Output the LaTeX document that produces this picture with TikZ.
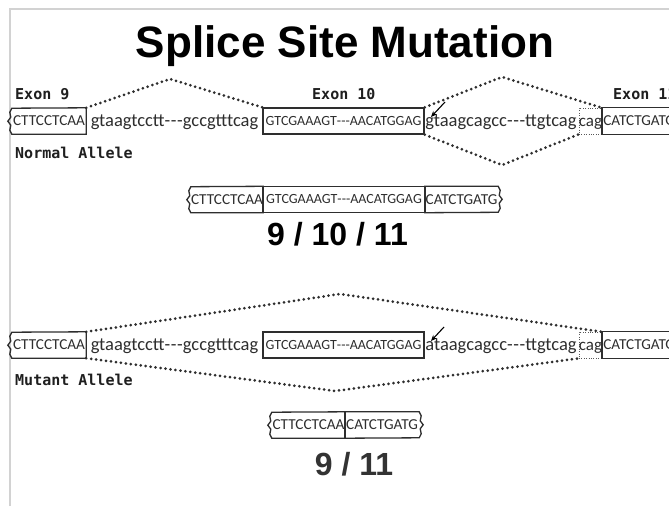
\documentclass[tikz,border=0pt]{standalone}
\usepackage{fontspec}
\setmainfont{Liberation Sans}
\newfontfamily\seqfont{Carlito}
\newfontfamily\labfont{DejaVu Sans Mono}
\usetikzlibrary{arrows.meta}
\definecolor{ink}{HTML}{2E2E2E}
\definecolor{framegray}{HTML}{D2D2D2}
\newcommand\dsh{\mbox{-}\hspace{0.6pt}\mbox{-}\hspace{0.6pt}\mbox{-}}
\newcommand\tdsh{\mbox{-}\mbox{-}\mbox{-}}
\tikzset{
  capseq/.style={font=\seqfont\fontsize{15.2}{17}\selectfont, text=ink, inner sep=0pt},
  lowseq/.style={font=\seqfont\fontsize{18.5}{20}\selectfont, text=ink, inner sep=0pt, anchor=base},
  cagtxt/.style={font=\seqfont\fontsize{17}{19}\selectfont, text=ink, inner sep=0pt, anchor=base},
  boxline/.style={draw=ink, line width=1.3pt},
  exbox/.style={capseq, rectangle, minimum height=26pt, boxline},
  midbox/.style={exbox, font=\seqfont\fontsize{14}{16}\selectfont},
  openbox/.style={capseq, rectangle, minimum height=26pt},
  cagbox/.style={rectangle, inner sep=0pt, minimum height=26pt, draw=ink!80, line width=0.8pt, dash pattern=on 1pt off 1.4pt},
  exlab/.style={font=\labfont\bfseries\fontsize{15}{17}\selectfont, text=black!88, inner sep=0pt, anchor=base west},
  dots/.style={draw=ink, line width=3pt, line cap=round, dash pattern=on 0pt off 5pt},
  pointer/.style={draw=black, line width=1.1pt, -{Stealth[length=6pt,width=5pt]}},
  lwave/.style={insert path={-- ++(-2,-4) -- ++(1,-5) -- ++(-3,-4) -- ++(3,-4) -- ++(-1,-5) -- ++(2,-4)}},
  rwave/.style={insert path={-- ++(2,4) -- ++(-1,5) -- ++(3,4) -- ++(-3,4) -- ++(1,5) -- ++(-2,4)}},
  bignum/.style={font=\bfseries\fontsize{32}{36}\selectfont, inner sep=0pt, anchor=base}
}
\begin{document}
\begin{tikzpicture}[x=1pt,y=-1pt]
\path[use as bounding box] (0,0) rectangle (669,506);
\clip (0,0) rectangle (669,506);
\fill[white] (0,0) rectangle (669,506);
\draw[framegray, line width=2pt] (9.8,506) -- (9.8,9) -- (669,9);

% title
\node[font=\bfseries\fontsize{44}{48}\selectfont, inner sep=0pt, anchor=base] (title) at (345,57) {Splice Site Mutation};

% ---------- Normal allele ----------
\node[exlab] (l9) at (15,99) {Exon 9};
\node[exlab] (l10) at (312,99) {Exon 10};
\node[exlab] (l11) at (613,99) {Exon 11};

\node[openbox, minimum width=76pt] (e9n) at (48,121) {\hspace*{2pt}CTTCCTCAA};
\draw[boxline] ([xshift=2pt]e9n.south west) [lwave] -- (e9n.north east) -- (e9n.south east) -- cycle;
\node[lowseq] (i1n) at (174.5,126.5) {gtaagtcctt\dsh gccgtttcag};
\node[midbox, minimum width=161pt] (e10n) at (343.5,121) {GTCGAAAGT\tdsh AACATGGAG};
\node[lowseq] (i2n) at (501,126.5) {gtaagcagcc\dsh ttgtcag};
\node[cagbox, minimum width=23pt] (cagn) at (590.5,121) {};
\node[cagtxt] (cagtn) at (590.5,126.5) {cag};
\node[openbox, minimum width=100pt, anchor=west] (e11n) at (602,121) {\hspace*{-26pt}CATCTGATG};
\draw[boxline] (e11n.north east) -- (e11n.north west) -- (e11n.south west) -- (e11n.south east);

\coordinate (p1n) at (170,79);
\coordinate (p2n) at (502,77);
\coordinate (p3n) at (502,165);
\draw[dots] (e9n.north east) -- (p1n) -- (e10n.north west);
\draw[dots] (e10n.north east) -- (p2n) -- (e11n.north west);
\draw[dots] (e10n.south east) -- (p3n) -- (cagn.south west);
\coordinate (an0) at (445,102);
\coordinate (an1) at (431,117);
\draw[pointer] (an0) -- (an1);

\node[exlab] (nal) at (15,158) {Normal Allele};

% ---------- product 9/10/11 ----------
\node[openbox, minimum width=74pt] (a9) at (226,199.5) {\hspace*{2pt}CTTCCTCAA};
\draw[boxline] ([xshift=2pt]a9.south west) [lwave] -- (a9.north east) -- (a9.south east) -- cycle;
\node[midbox, minimum width=162pt] (a10) at (344,199.5) {GTCGAAAGT\tdsh AACATGGAG};
\node[openbox, minimum width=76pt] (a11) at (463,199.5) {CATCTGATG\hspace*{3pt}};
\draw[boxline] (a11.south west) -- (a11.north west) -- ([xshift=-3pt]a11.north east) [rwave] -- cycle;
\node[bignum] (n1) at (337.5,245) {9 / 10 / 11};

% ---------- Mutant allele ----------
\node[openbox, minimum width=76pt] (e9m) at (48,345) {\hspace*{2pt}CTTCCTCAA};
\draw[boxline] ([xshift=2pt]e9m.south west) [lwave] -- (e9m.north east) -- (e9m.south east) -- cycle;
\node[lowseq] (i1m) at (174.5,350.5) {gtaagtcctt\dsh gccgtttcag};
\node[midbox, minimum width=161pt] (e10m) at (343.5,345) {GTCGAAAGT\tdsh AACATGGAG};
\node[lowseq] (i2m) at (501,350.5) {ataagcagcc\dsh ttgtcag};
\node[cagbox, minimum width=23pt] (cagm) at (590.5,345) {};
\node[cagtxt] (cagtm) at (590.5,350.5) {cag};
\node[openbox, minimum width=100pt, anchor=west] (e11m) at (602,345) {\hspace*{-26pt}CATCTGATG};
\draw[boxline] (e11m.north east) -- (e11m.north west) -- (e11m.south west) -- (e11m.south east);

\coordinate (p1m) at (340,294);
\coordinate (p2m) at (335,391);
\draw[dots] (e9m.north east) -- (p1m) -- (e11m.north west);
\draw[dots] (e9m.south east) -- (p2m) -- (cagm.south west);
\coordinate (am0) at (444,327);
\coordinate (am1) at (431,341);
\draw[pointer] (am0) -- (am1);

\node[exlab] (mal) at (15,385) {Mutant Allele};

% ---------- product 9/11 ----------
\node[openbox, minimum width=75pt] (b9) at (307.5,425) {\hspace*{2pt}CTTCCTCAA};
\draw[boxline] ([xshift=2pt]b9.south west) [lwave] -- (b9.north east) -- (b9.south east) -- cycle;
\node[openbox, minimum width=77pt] (b11) at (383.5,425) {CATCTGATG\hspace*{3pt}};
\draw[boxline] (b11.south west) -- (b11.north west) -- ([xshift=-3pt]b11.north east) [rwave] -- cycle;
\node[bignum, text=black!80] (n2) at (354,475) {9 / 11};
\end{tikzpicture}
\end{document}
